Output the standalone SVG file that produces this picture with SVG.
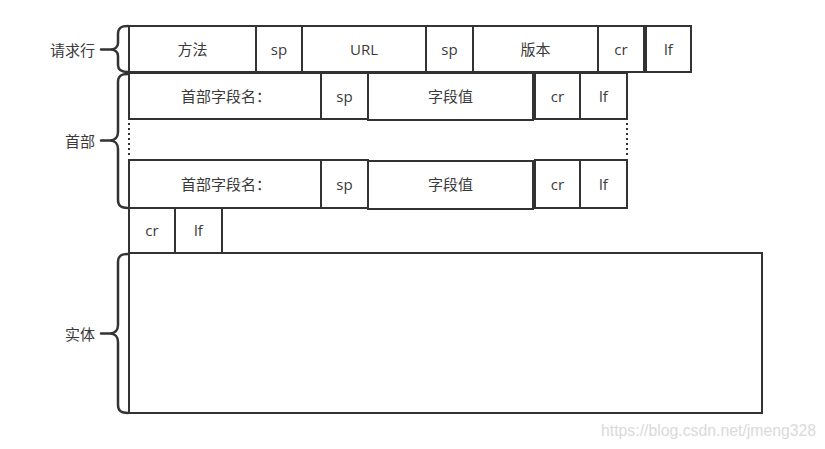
<svg xmlns="http://www.w3.org/2000/svg" width="825" height="449" viewBox="0 0 825 449">
<style>
.box{fill:#fff;stroke:#333;stroke-width:2}
.t{font-family:"Open Sans","Noto Sans CJK SC",sans-serif;font-size:15px;fill:#3a3a3a;text-anchor:middle;dominant-baseline:central}
.lbl{font-family:"Noto Sans CJK SC",sans-serif;font-size:15px;fill:#3a3a3a;text-anchor:end;dominant-baseline:central}
.brace{fill:none;stroke:#333;stroke-width:2.5;stroke-linecap:round;stroke-linejoin:round}
.dot{fill:none;stroke:#333;stroke-width:2;stroke-dasharray:2 3}
.wm{font-family:"Liberation Sans",Arial,sans-serif;font-size:15.8px;fill:#dadada}
</style>
<rect width="825" height="449" fill="#fff"/>

<g id="request-line">
<rect class="box" x="129" y="26" width="127" height="46"/><text class="t" x="192.5" y="49">方法</text>
<rect class="box" x="256" y="26" width="46" height="46"/><text class="t" x="279" y="49">sp</text>
<rect class="box" x="302" y="26" width="124" height="46"/><text class="t" x="364" y="49">URL</text>
<rect class="box" x="426" y="26" width="47" height="46"/><text class="t" x="449.5" y="49">sp</text>
<rect class="box" x="473" y="26" width="125" height="46"/><text class="t" x="535.5" y="49">版本</text>
<rect class="box" x="598" y="26" width="46" height="46"/><text class="t" x="621" y="49">cr</text>
<rect class="box" x="646" y="26" width="45" height="46"/><text class="t" x="668.5" y="49">lf</text>
</g>

<g id="header-1">
<rect class="box" x="129" y="73" width="192" height="46"/><text class="t" x="226" y="96">首部字段名：</text>
<rect class="box" x="321" y="73" width="47" height="46"/><text class="t" x="344.5" y="96">sp</text>
<rect class="box" x="368" y="73" width="165" height="47"/><text class="t" x="450.5" y="96">字段值</text>
<rect class="box" x="535" y="73" width="45" height="46"/><text class="t" x="557.5" y="96">cr</text>
<rect class="box" x="580" y="73" width="47" height="46"/><text class="t" x="603.5" y="96">lf</text>
</g>

<g id="header-ellipsis">
<line class="dot" x1="129" y1="123" x2="129" y2="157"/>
<line class="dot" x1="627" y1="123" x2="627" y2="157"/>
</g>

<g id="header-n">
<rect class="box" x="129" y="160" width="192" height="48"/><text class="t" x="226" y="184">首部字段名：</text>
<rect class="box" x="321" y="160" width="47" height="48"/><text class="t" x="344.5" y="184">sp</text>
<rect class="box" x="368" y="161" width="165" height="48"/><text class="t" x="450.5" y="184">字段值</text>
<rect class="box" x="535" y="160" width="45" height="48"/><text class="t" x="557.5" y="184">cr</text>
<rect class="box" x="580" y="160" width="47" height="48"/><text class="t" x="603.5" y="184">lf</text>
</g>

<g id="blank-line">
<rect class="box" x="129" y="208" width="46" height="45"/><text class="t" x="152" y="230">cr</text>
<rect class="box" x="175" y="208" width="47" height="45"/><text class="t" x="198.5" y="230">lf</text>
</g>

<g id="entity">
<rect class="box" x="129" y="253" width="633" height="160"/>
</g>

<g id="label-request-line">
<text class="lbl" x="95" y="49">请求行</text>
</g>
<g id="label-header">
<text class="lbl" x="95" y="140">首部</text>
</g>
<g id="label-entity">
<text class="lbl" x="95" y="333">实体</text>
</g>

<g id="connectors">
<path class="brace" d="M128 26 C121 26 118 28 118 34 L118 43 C118 47 115 49.5 110 49.5 L101 49.5 M110 49.5 C115 49.5 118 52 118 56 L118 65 C118 70 121 72 128 72"/>
<path class="brace" d="M128 74 C121 74 118 76 118 82 L118 132 C118 137 115 140.5 110 140.5 L101 140.5 M110 140.5 C115 140.5 118 144 118 149 L118 200 C118 206 121 208 128 208"/>
<path class="brace" d="M128 254 C121 254 118 256 118 262 L118 325 C118 330 115 333.5 110 333.5 L101 333.5 M110 333.5 C115 333.5 118 337 118 342 L118 405 C118 411 121 413 128 413"/>
</g>

<text class="wm" x="601" y="436">https://blog.csdn.net/jmeng328</text>
</svg>
